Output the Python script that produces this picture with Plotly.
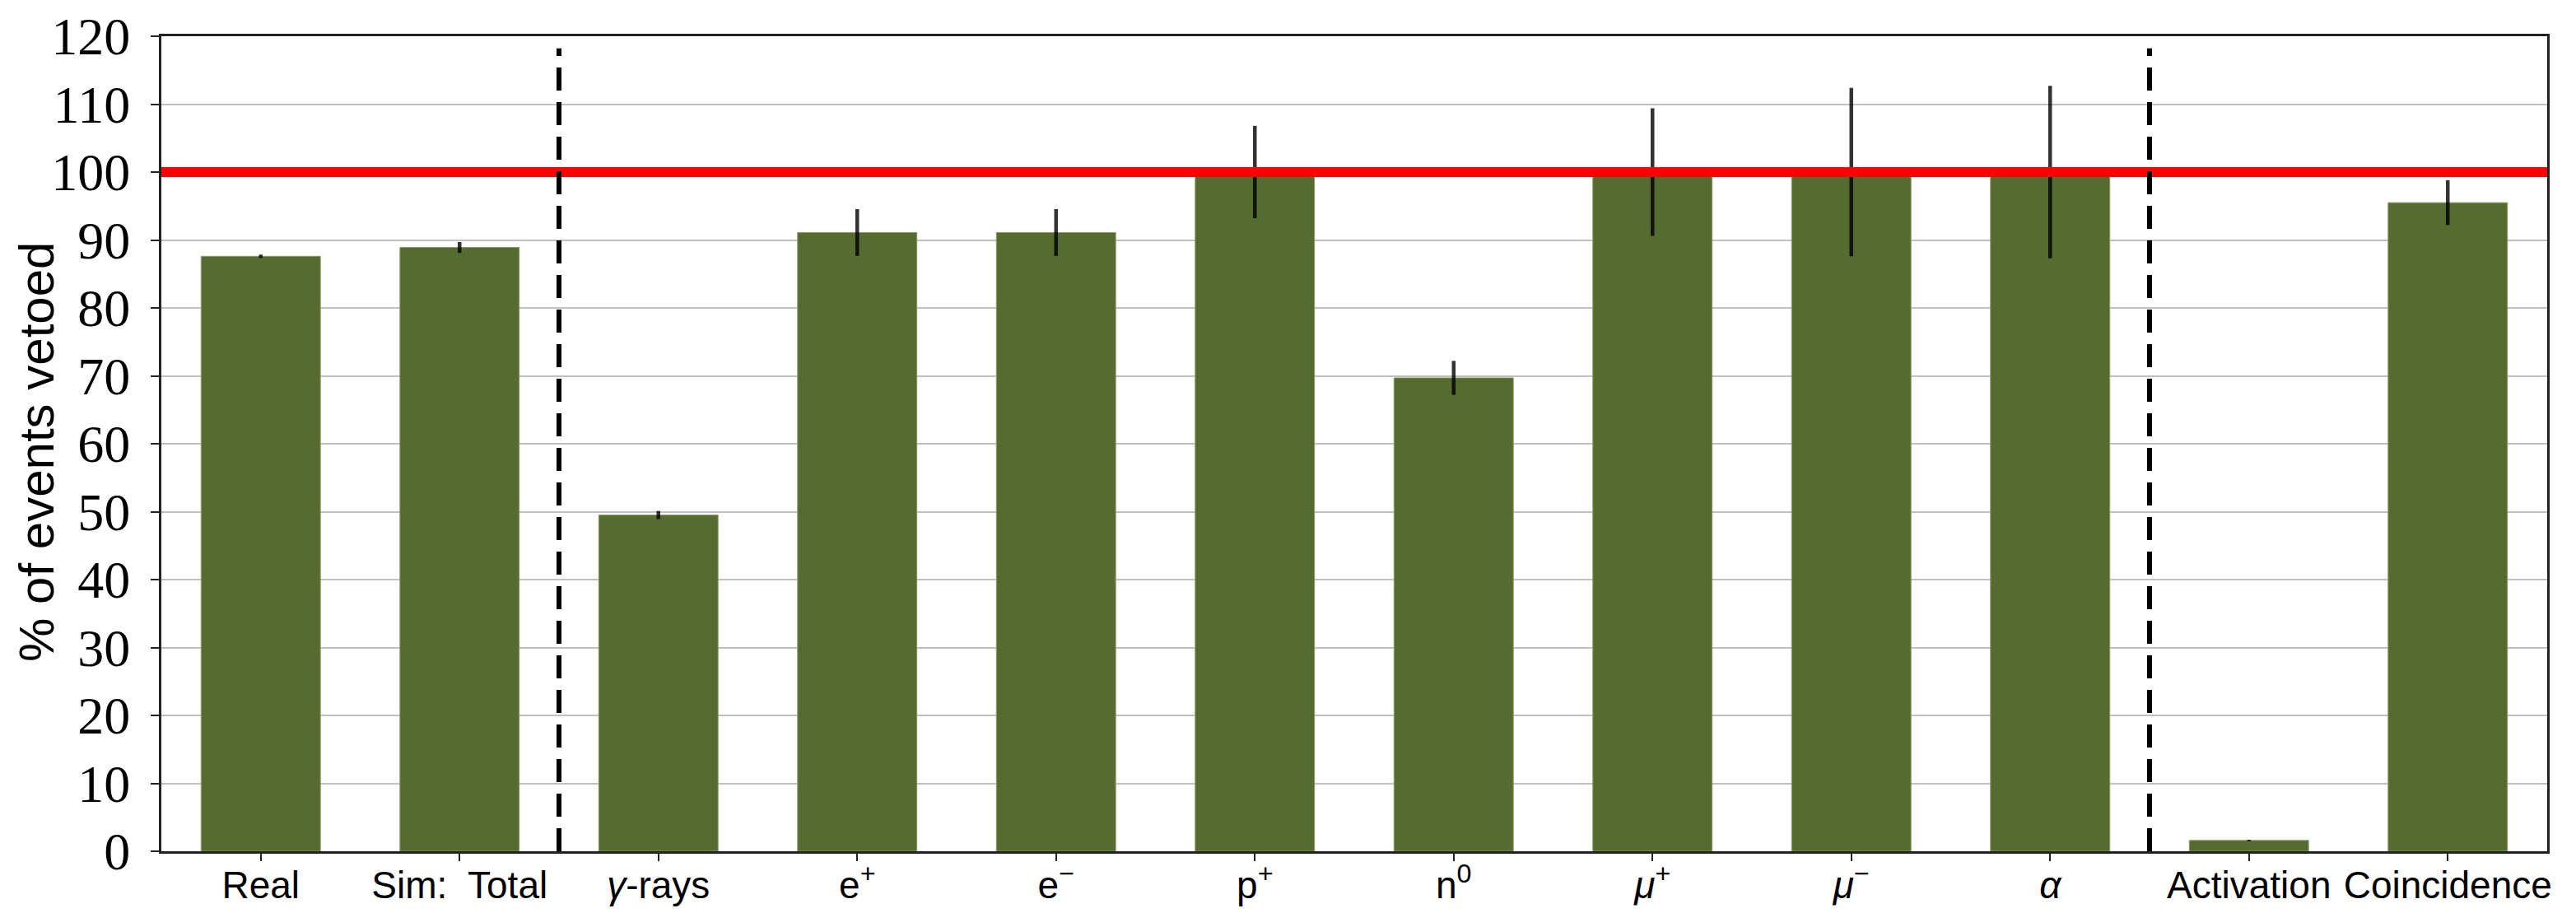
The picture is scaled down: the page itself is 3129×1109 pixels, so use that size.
import plotly.graph_objects as go

categories = ["Real", "Sim:  Total", "<i>γ</i>-rays", "e<sup>+</sup>", "e<sup>−</sup>",
              "p<sup>+</sup>", "n<sup>0</sup>", "<i>μ</i><sup>+</sup>", "<i>μ</i><sup>−</sup>",
              "<i>α</i>", "Activation", "Coincidence"]
values = [87.6, 88.9, 49.5, 91.1, 91.1, 100.0, 69.7, 100.0, 100.0, 100.0, 1.6, 95.5]
errors = [0.25, 0.8, 0.6, 3.45, 3.45, 6.8, 2.5, 9.4, 12.4, 12.7, 0.1, 3.3]
reference_level = 100
separators = [1.5, 9.5]
y_ticks = list(range(0, 121, 10))

# page body has an 8px default margin, so the figure is drawn 8px smaller
OFF = 8
W, H = 3129 - OFF, 1109 - OFF
L, R, T, B = 196 - OFF, 35, 44 - OFF, 75

x = list(range(len(categories)))

fig = go.Figure()
fig.add_trace(go.Bar(
    x=x, y=values, width=0.6,
    marker=dict(color="#556B2F", line=dict(width=1, color="#8a9a6a")),
    error_y=dict(type="data", array=errors, visible=True, color="rgba(0,0,0,0.8)",
                 thickness=4.5, width=0),
    showlegend=False,
))

# red reference line
fig.add_shape(type="line", xref="x", yref="y", x0=-0.5, x1=len(categories) - 0.5,
              y0=reference_level, y1=reference_level,
              line=dict(color="#ff0000", width=12), layer="above")

for s in separators:
    fig.add_shape(type="line", xref="x", yref="paper", x0=s, x1=s, y0=0, y1=0.985,
                  line=dict(color="black", width=6, dash="28px,14px"), layer="above")

fig.add_annotation(text="% of events vetoed", xref="paper", yref="paper",
                   x=(45 - OFF - L) / (W - L - R), y=0.49, xanchor="center", yanchor="middle",
                   textangle=-90, showarrow=False, borderpad=0,
                   font=dict(family="Liberation Sans", size=60, color="black"))

fig.update_layout(
    width=W, height=H,
    margin=dict(l=L, r=R, t=T, b=B, pad=0, autoexpand=False),
    plot_bgcolor="white", paper_bgcolor="white",
    bargap=0.4,
)
fig.update_xaxes(
    range=[-0.5, len(categories) - 0.5], automargin=False,
    tickmode="array", tickvals=x, ticktext=categories,
    ticks="outside", ticklen=9, tickwidth=2, tickcolor="#222",
    ticklabelstandoff=-10,
    showline=True, linecolor="#222", linewidth=3, mirror=True,
    showgrid=False, zeroline=False,
    tickfont=dict(family="Liberation Sans Narrow, Liberation Sans", size=46, color="black"),
)
fig.update_yaxes(
    range=[0, 120], automargin=False,
    tickmode="array", tickvals=y_ticks,
    ticks="outside", ticklen=10, tickwidth=2, tickcolor="#222",
    ticklabelstandoff=12,
    showline=True, linecolor="#222", linewidth=3, mirror=True,
    showgrid=True, gridcolor="#c0c0c0", gridwidth=2, zeroline=False,
    tickfont=dict(family="Liberation Serif", size=64, color="black"),
)

fig.write_html("out.html")
